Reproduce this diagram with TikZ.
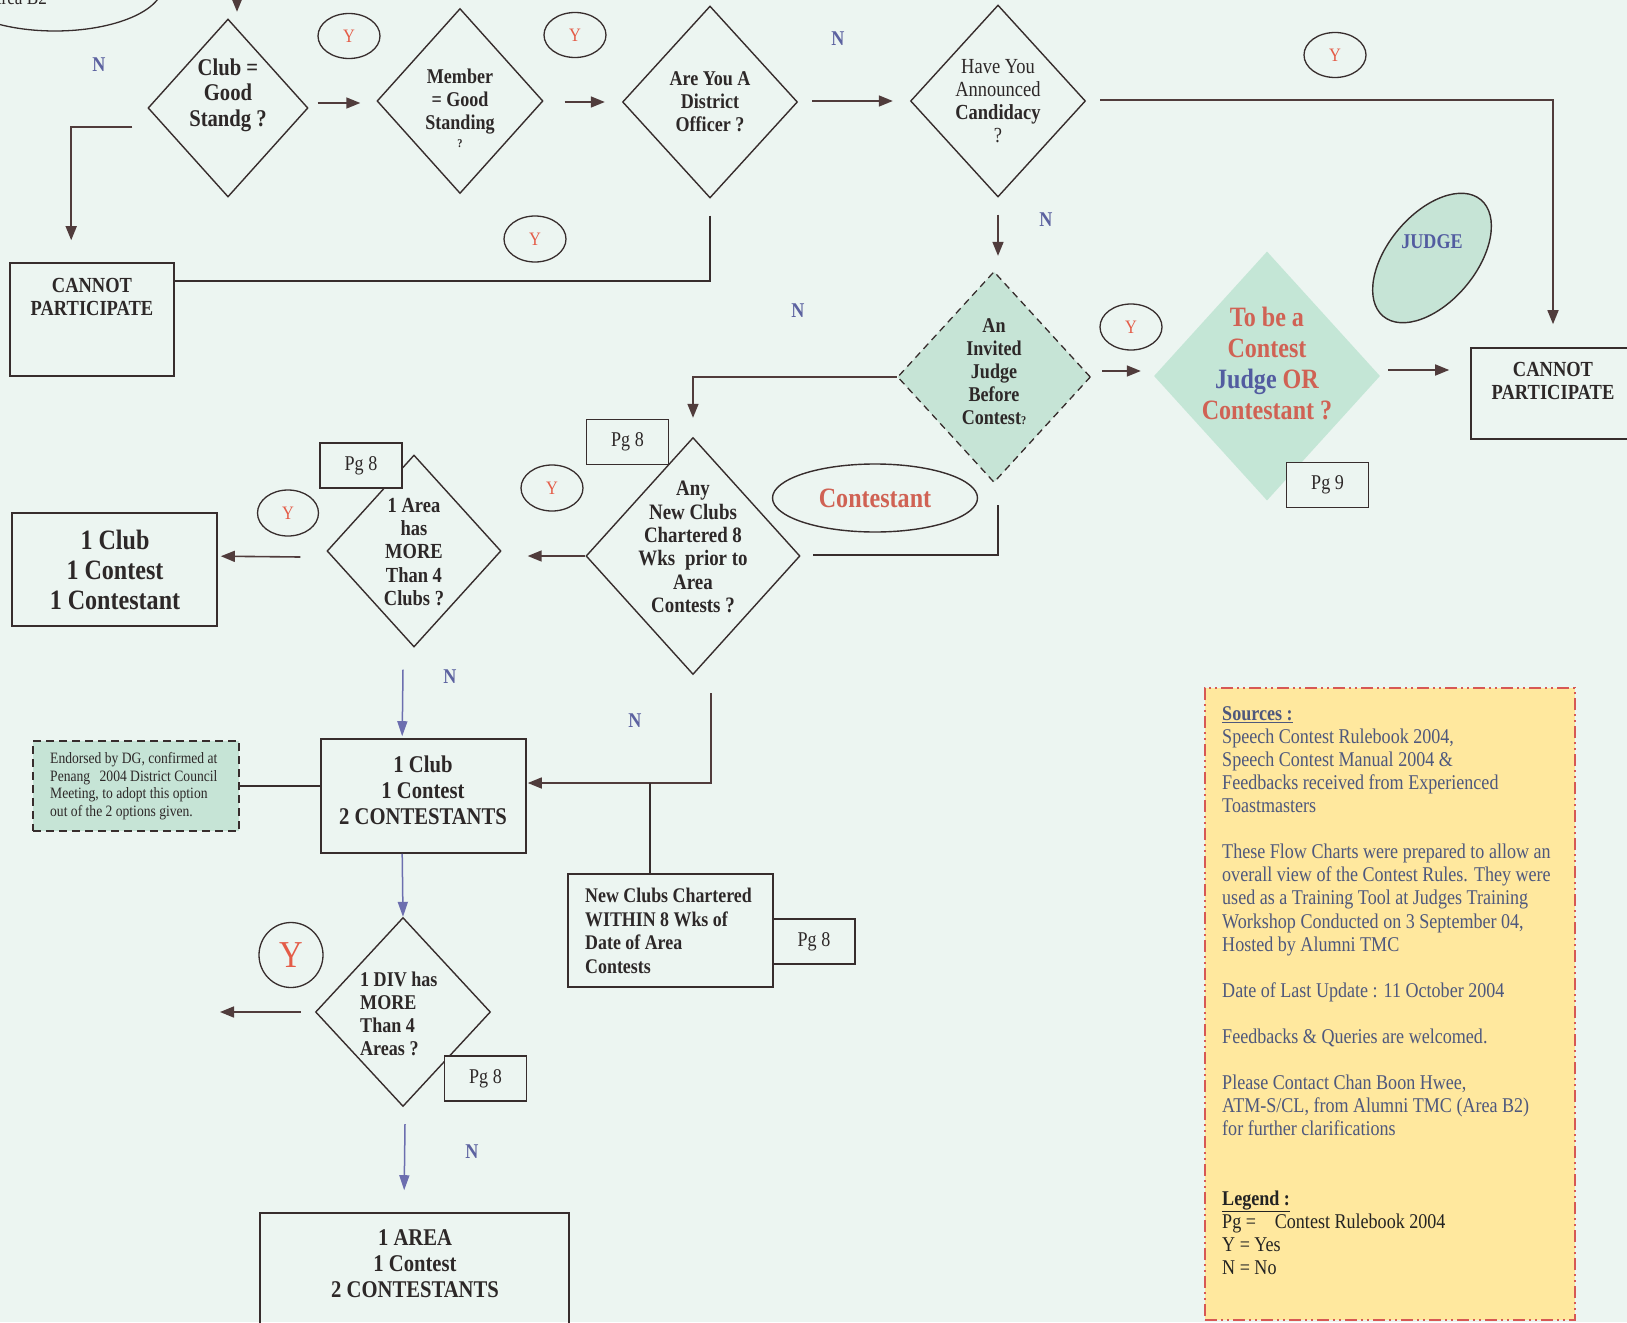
\documentclass[tikz,border=0pt]{standalone}
\usepackage{fontspec}
\setmainfont{Liberation Serif}[FakeStretch=0.86]
\usetikzlibrary{shapes.geometric,arrows.meta,calc}
\definecolor{bg}{RGB}{236,245,241}
\definecolor{ln}{RGB}{55,45,45}
\definecolor{arc}{RGB}{80,60,60}
\definecolor{bl}{RGB}{108,110,175}
\definecolor{nc}{RGB}{92,98,160}
\definecolor{yc}{RGB}{228,92,72}
\definecolor{tx}{RGB}{45,40,40}
\definecolor{gfill}{RGB}{198,228,214}
\definecolor{tobefill}{RGB}{196,230,214}
\definecolor{tred}{RGB}{208,98,84}
\definecolor{tblue}{RGB}{82,92,160}
\definecolor{yel}{RGB}{255,232,158}
\definecolor{redb}{RGB}{215,88,84}
\definecolor{srcc}{RGB}{78,88,125}
\definecolor{lgc}{RGB}{35,35,35}
\newcommand\myfs[2]{\fontsize{#1}{#2}\selectfont}
\begin{document}
\begin{tikzpicture}[x=1pt,y=-1pt,
 dia/.style={diamond, draw=ln, line width=1.4pt, inner sep=0pt},
 box/.style={rectangle, draw=ln, line width=1.6pt, inner sep=0pt},
 pg/.style={rectangle, draw=ln, line width=1.5pt, fill=bg, inner sep=0pt, minimum width=82pt, minimum height=45pt, font=\myfs{21}{23}, text=tx},
 yov/.style={ellipse, draw=ln, line width=1.3pt, inner sep=0pt, minimum width=62pt, minimum height=45pt, font=\myfs{19}{20}, text=yc},
 nlab/.style={font=\bfseries\myfs{21}{22}, text=nc, inner sep=0pt},
 dtxt/.style={align=center, text=tx, inner sep=0pt},
 arr/.style={draw=arc, line width=1.6pt, -{Triangle[length=14pt,width=11pt]}},
 barr/.style={draw=bl, line width=1.5pt, -{Triangle[length=15pt,width=10pt]}},
 conn/.style={draw=ln, line width=1.6pt}]
\useasboundingbox (0,0) rectangle (1627,1322);
\fill[bg] (0,0) rectangle (1627,1322);

% top-left partial ellipse
\draw[ln, line width=1.3pt] (55,-15) ellipse [x radius=108, y radius=46];
\node[anchor=base west, inner sep=0pt, font=\myfs{20}{22}, text=tx] (areab2) at (-11,5) {Area B2};

% top row diamonds
\node[dia, minimum width=160pt, minimum height=178pt] (club) at (228,108) {};
\node[dtxt, font=\bfseries\myfs{24}{25.4}] (clubt) at (228,95) {Club =\\Good\\Standg ?};
\node[dia, minimum width=166pt, minimum height=185pt] (member) at (460,101) {};
\node[dtxt, font=\bfseries\myfs{21}{23}] (membert) at (460,108) {Member\\= Good\\Standing\\[-5pt]{\myfs{12}{12}?}};
\node[dia, minimum width=175pt, minimum height=192pt] (district) at (710,102) {};
\node[dtxt, font=\bfseries\myfs{21}{23}] (districtt) at (710,102) {Are You A\\District\\Officer ?};
\node[dia, minimum width=175pt, minimum height=192pt] (have) at (998,101) {};
\node[dtxt, font=\myfs{21.5}{23}] (havet) at (998,101) {Have You\\Announced\\\textbf{Candidacy}\\?};

% Y / N labels
\node[yov] (y1) at (349,36) {Y};
\node[yov] (y2) at (575,35) {Y};
\node[yov] (y3) at (1335,55) {Y};
\node[yov, minimum height=46pt] (y4) at (535,239) {Y};
\node[yov, minimum height=46pt] (y5) at (1131,327) {Y};
\node[yov, minimum height=46pt] (y6) at (552,488) {Y};
\node[yov, minimum width=61pt, minimum height=46pt] (y7) at (288,513) {Y};
\node[yov, minimum width=64pt, minimum height=65pt, font=\myfs{38}{40}] (y8) at (291,955) {Y};
\node[nlab] (n1) at (99,65) {N};
\node[nlab] (n2) at (838,39) {N};
\node[nlab] (n3) at (1046,220) {N};
\node[nlab] (n4) at (798,311) {N};
\node[nlab] (n5) at (450,677) {N};
\node[nlab] (n6) at (635,721) {N};
\node[nlab] (n7) at (472,1152) {N};

% boxes
\node[box, minimum width=164pt, minimum height=113pt] (cannot1) at (92,319.5) {};
\node[dtxt, font=\bfseries\myfs{21.5}{23}] (cannot1t) at (92,297) {CANNOT\\PARTICIPATE};
\node[box, minimum width=164pt, minimum height=91pt] (cannot2) at (1553,393.5) {};
\node[dtxt, font=\bfseries\myfs{21.5}{23}] (cannot2t) at (1553,381) {CANNOT\\PARTICIPATE};

% invited judge + to be
\node[diamond, draw=ln, line width=1.3pt, dash pattern=on 7pt off 5pt, fill=gfill, inner sep=0pt, minimum width=193pt, minimum height=211pt] (invited) at (994,377) {};
\node[dtxt, font=\bfseries\myfs{21}{23}] (invitedt) at (994,372) {An\\Invited\\Judge\\Before\\Contest{\myfs{12}{12}?}};
\node[diamond, fill=tobefill, inner sep=0pt, minimum width=226pt, minimum height=249pt] (tobe) at (1267,376) {};
\node[dtxt, font=\bfseries\myfs{28}{31}] (tobet) at (1267,363) {\textcolor{tred}{To be a}\\\textcolor{tred}{Contest}\\\textcolor{tblue}{Judge} \textcolor{tred}{OR}\\\textcolor{tred}{Contestant ?}};
\node[ellipse, draw=ln, line width=1.4pt, fill=gfill, rotate=50, inner sep=0pt, minimum width=152pt, minimum height=88pt] (judge) at (1432,258) {};
\node[font=\bfseries\myfs{21}{23}, text=tblue, inner sep=0pt] (judget) at (1432,242) {JUDGE};
\node[pg] (pg9) at (1327.5,485) {Pg 9};
\node[ellipse, draw=ln, line width=1.4pt, inner sep=0pt, minimum width=205pt, minimum height=68pt, font=\bfseries\myfs{28}{30}, text=tred] (contestant) at (875,498) {Contestant};

% middle diamonds
\node[dia, minimum width=214pt, minimum height=237pt] (any) at (693,556) {};
\node[dtxt, font=\bfseries\myfs{22}{23.4}] (anyt) at (693,547) {Any\\New Clubs\\Chartered 8\\Wks\hspace{0.45em}prior to\\Area\\Contests ?};
\node[pg] (pga) at (627.5,442) {Pg 8};
\node[dia, minimum width=174pt, minimum height=192pt] (area) at (414,551) {};
\node[dtxt, font=\bfseries\myfs{21.5}{23.4}] (areat) at (414,552) {1 Area\\has\\MORE\\Than 4\\Clubs ?};
\node[pg] (pgb) at (361,465.5) {Pg 8};
\node[box, minimum width=205pt, minimum height=113pt] (box1) at (114.5,569.5) {};
\node[dtxt, font=\bfseries\myfs{28}{30}] (box1t) at (115,570) {1 Club\\1 Contest\\1 Contestant};

% lower part
\node[box, minimum width=205pt, minimum height=114pt] (box2) at (423.5,796) {};
\node[dtxt, font=\bfseries\myfs{24}{26}] (box2t) at (423,790) {1 Club\\1 Contest\\2 CONTESTANTS};
\node[rectangle, draw=ln, line width=1.4pt, dash pattern=on 8pt off 5pt, fill=gfill, inner sep=0pt, minimum width=206pt, minimum height=90pt] (endorsed) at (136,786) {};
\node[anchor=west, align=left, inner sep=0pt, text=tx, font=\myfs{15.8}{17.6}] (endorsedt) at (50,786) {Endorsed by DG, confirmed at\\Penang\hspace{0.6em}2004 District Council\\Meeting, to adopt this option\\out of the 2 options given.};
\node[box, minimum width=205pt, minimum height=113pt] (newclubs) at (670.5,930.5) {};
\node[anchor=west, align=left, inner sep=0pt, text=tx, font=\bfseries\myfs{20.8}{23.5}] (newclubst) at (585,931) {New Clubs Chartered\\WITHIN 8 Wks of\\Date of Area\\Contests};
\node[pg] (pgc) at (814,941.5) {Pg 8};
\node[dia, minimum width=175pt, minimum height=189pt] (div) at (403,1012) {};
\node[anchor=west, align=left, inner sep=0pt, text=tx, font=\bfseries\myfs{21}{23}] (divt) at (360,1014) {1 DIV has\\MORE\\Than 4\\Areas ?};
\node[pg] (pgd) at (485.5,1078.5) {Pg 8};
\node[box, minimum width=309pt, minimum height=127pt] (boxarea) at (414.5,1276.5) {};
\node[dtxt, font=\bfseries\myfs{24}{26}] (boxareat) at (415,1264) {1 AREA\\1 Contest\\2 CONTESTANTS};

% sources box
\node[rectangle, draw=redb, fill=yel, line width=1.3pt, dash pattern=on 12pt off 4pt on 2pt off 4pt on 2pt off 4pt, inner sep=0pt, minimum width=370pt, minimum height=632pt] (srcbox) at (1390,1004) {};
\node[anchor=north west, align=left, inner sep=0pt, text=srcc, font=\myfs{21}{23.1}] (src) at (1222,706) {%
\textbf{\underline{Sources :}}\\
Speech Contest Rulebook 2004,\\
Speech Contest Manual 2004 \&\\
Feedbacks received from Experienced\\
Toastmasters\\[23.1pt]
These Flow Charts were prepared to allow an\\
overall view of the Contest Rules. They were\\
used as a Training Tool at Judges Training\\
Workshop Conducted on 3 September 04,\\
Hosted by Alumni TMC\\[23.1pt]
Date of Last Update : 11 October 2004\\[23.1pt]
Feedbacks \& Queries are welcomed.\\[23.1pt]
Please Contact Chan Boon Hwee,\\
ATM-S/CL, from Alumni TMC (Area B2)\\
for further clarifications\\[46.2pt]
\textcolor{lgc}{\textbf{\underline{Legend :}}}\\
\textcolor{lgc}{Pg =\hspace{0.9em}Contest Rulebook 2004}\\
\textcolor{lgc}{Y = Yes}\\
\textcolor{lgc}{N = No}};

% connectors
\coordinate (topin) at (237,-5);
\draw[arr, shorten >=6.5pt] (topin) -- (topin |- club.north);
\draw[arr] ($(club.east)+(9,-5)$) -- ($(member.west)+(-16,2)$);
\draw[arr] ($(member.east)+(21,1)$) -- ($(district.west)+(-17,0)$);
\draw[arr] ($(district.east)+(14,-1)$) -- ($(have.west)+(-17,0)$);
\draw[arr] ($(have.east)+(14,-1)$) -| ($(cannot2.north)+(0,-23)$);
\draw[arr] ($(club.west)+(-15,19)$) -| ($(cannot1.north west)+(62,-22)$);
\draw[conn] ($(district.south)+(0,17)$) |- ($(cannot1.north east)+(0,19)$);
\coordinate (hv1) at ($(have.south)+(0,17)$);
\draw[arr, shorten >=15pt] (hv1) -- (hv1 |- invited.north);
\draw[arr, shorten >=19pt] (invited.west) -| (any.north);
\draw[arr] ($(invited.east)+(11,-6)$) -- ($(tobe.west)+(-13,-5)$);
\draw[arr] ($(tobe.east)+(8,-6)$) -- ($(cannot2.west)+(-21,-23.5)$);
\draw[conn] ($(invited.south)+(4,22)$) |- ($(any.east)+(12,-1)$);
\draw[arr] (any.west) -- ($(area.east)+(26,5)$);
\draw[arr] ($(area.west)+(-26,6)$) -- ($(box1.north east)+(3,44)$);
\draw[barr] ($(area.south)+(-11,22)$) -- ($(box2.north west)+(82,-2)$);
\draw[arr] ($(any.south)+(18,18)$) |- ($(box2.east)+(1,-13)$);
\coordinate (j1) at (650,783);
\draw[conn] (j1) -- (j1 |- newclubs.north);
\draw[conn] (endorsed.east) -- (endorsed.east -| box2.west);
\draw[barr] ($(box2.south west)+(82,0)$) -- (div.north);
\coordinate (divout) at (220,1012);
\draw[arr] ($(div.west)+(-14,0)$) -- (divout);
\draw[barr] ($(div.south)+(2,17)$) -- ($(boxarea.north west)+(145,-22)$);
\end{tikzpicture}
\end{document}
